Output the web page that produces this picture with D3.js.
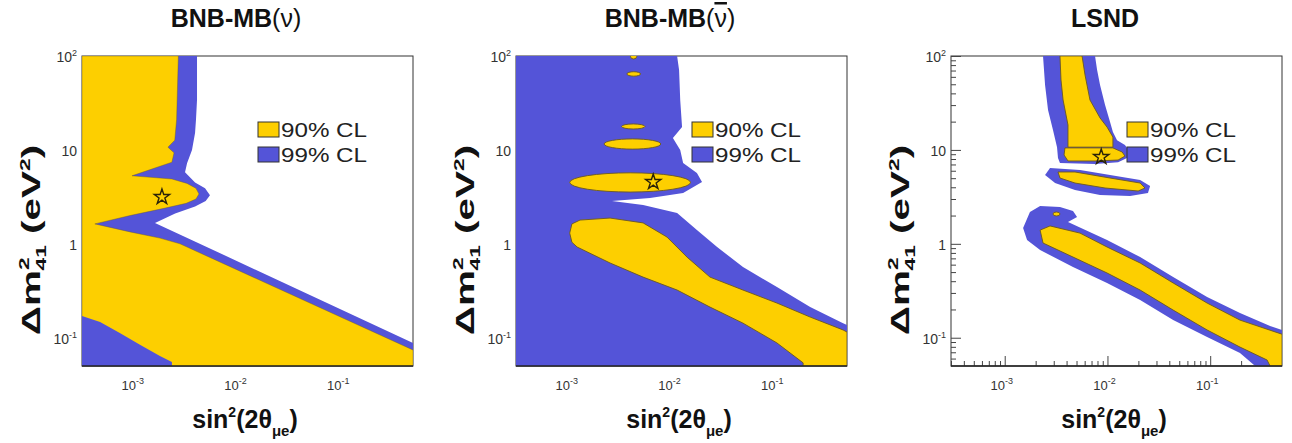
<!DOCTYPE html>
<html>
<head>
<meta charset="utf-8">
<script src="https://cdn.jsdelivr.net/npm/d3@7"></script>
<style>
  body { margin: 0; background: #fff; }
  svg { display: block; font-family: "Liberation Sans", Arial, Helvetica, sans-serif; }
</style>
</head>
<body>
<svg id="chart" width="1292" height="443"></svg>
<script>
// axes: sin^2(2theta_mue) horizontally, dm^2_41 (eV^2) vertically, both log
const xDomain = [3e-4, 0.5];
const yDomain = [0.05, 100];
const xTicks = [1e-3, 1e-2, 1e-1];
const xTickLabels = [["10", "-3"], ["10", "-2"], ["10", "-1"]];
const yTicks = [0.1, 1, 10, 100];
const yTickLabels = [["10", "-1"], ["1", ""], ["10", ""], ["10", "2"]];
const legendLabels = ["90% CL", "99% CL"];

// contours as [sin2, dm2] points
// BNB-MB(nu)
const mbNu99 = [[3e-4,100],[3.95e-3,100],[3.95e-3,34],[3.86e-3,21],[3.78e-3,15.1],[3.53e-3,10],[3.16e-3,7.2],
  [3.02e-3,5.8],[3.78e-3,4.5],[4.73e-3,3.9],[5.28e-3,3.3],[4.8e-3,2.86],[3.78e-3,2.5],[2.42e-3,2.1],[1.54e-3,1.67],
  [0.5,0.088],[0.5,0.05],[3e-4,0.05]];
const mbNu90 = [[3e-4,100],[2.6e-3,100],[2.5e-3,21],[2.4e-3,12.7],[2.06e-3,10.7],[2.36e-3,9.3],[2.25e-3,7.4],
  [9.2e-4,5.3],[2.25e-3,4.9],[3.16e-3,4.4],[3.86e-3,3.9],[4.13e-3,3.4],[3.86e-3,3.0],[3.1e-3,2.7],[1.93e-3,2.4],
  [8.8e-4,2.0],[4.0e-4,1.63],[8.8e-4,1.34],[1.72e-3,1.15],[2.7e-3,1.0],[0.5,0.074],[0.5,0.05],[3e-4,0.05]];
const mbNuCorner = [[3e-4,0.17],[4.5e-4,0.147],[7.0e-4,0.112],[1.1e-3,0.084],[1.72e-3,0.064],[2.25e-3,0.055],
  [2.25e-3,0.05],[3e-4,0.05]];

// BNB-MB(nubar)
const mbNubar99 = [[3e-4,100],[1.11e-2,100],[1.16e-2,71],[1.19e-2,34],[1.24e-2,17.5],[1.01e-2,13.4],[1.19e-2,10],
  [1.27e-2,7.25],[1.73e-2,5.67],[1.94e-2,4.55],[1.27e-2,3.47],[6.05e-3,3.07],[2.58e-3,2.86],[5.18e-3,2.59],
  [1.11e-2,2.13],[1.73e-2,1.40],[2.72e-2,0.925],[4.86e-2,0.566],[0.104,0.347],[0.219,0.212],[0.458,0.143],
  [0.5,0.137],[0.5,0.05],[3e-4,0.05]];
const mbNubar90 = [[1.18e-3,0.925],[1.05e-3,1.04],[1.0e-3,1.30],[1.05e-3,1.63],[1.26e-3,1.79],[2.47e-3,1.88],
  [5.18e-3,1.67],[8.85e-3,1.18],[1.39e-2,0.72],[2.32e-2,0.442],[4.86e-2,0.322],[0.104,0.234],[0.219,0.166],
  [0.458,0.121],[0.5,0.115],[0.5,0.05],[0.187,0.05],[0.187,0.054],[0.104,0.088],[4.86e-2,0.143],[2.32e-2,0.212],
  [1.11e-2,0.322],[5.18e-3,0.442],[2.47e-3,0.625]];
// small closed 90% islands: [sin2 min, sin2 max, dm2 min, dm2 max]
const mbNubarIslands = [[1.0e-3,1.5e-2,3.56,5.7],[2.16e-3,7.7e-3,10.2,13.1],[3.2e-3,5.4e-3,16.7,18.9],
  [3.6e-3,4.9e-3,61,68],[3.9e-3,4.5e-3,93,106]];

// LSND
const lsnd99 = [
  [[2.36e-3,100],[7.57e-3,100],[7.93e-3,71],[8.47e-3,49],[9.48e-3,30],[1.06e-2,19.8],[1.13e-2,15.5],[1.24e-2,12.7],
   [1.48e-2,11.3],[1.66e-2,9.5],[1.55e-2,8.2],[1.27e-2,7.4],[7.57e-3,7.07],[3.45e-3,7.25],[3.3e-3,8.2],
   [3.23e-3,10.7],[2.95e-3,16.3],[2.64e-3,26.6],[2.47e-3,49]],
  [[2.47e-3,5.41],[2.76e-3,6.41],[5.41e-3,6.11],[1.06e-2,5.41],[2.08e-2,4.78],[2.6e-2,4.13],[2.48e-2,3.47],
   [1.66e-2,3.23],[8.47e-3,3.31],[4.83e-3,3.74],[3.09e-3,4.44]],
  [[1.51e-3,1.47],[1.76e-3,2.18],[2.21e-3,2.53],[3.45e-3,2.47],[4.62e-3,2.23],[5.06e-3,1.93],[4.13e-3,1.71],
   [9.91e-3,1.10],[2.08e-2,0.723],[4.36e-2,0.443],[9.33e-2,0.271],[0.195,0.183],[0.383,0.133],[0.5,0.121],
   [0.5,0.05],[0.274,0.05],[0.195,0.0687],[9.33e-2,0.102],[4.36e-2,0.154],[2.08e-2,0.252],[9.91e-3,0.383],
   [4.62e-3,0.566],[2.21e-3,0.859],[1.65e-3,1.10]]
];
const lsnd90 = [
  [[3.45e-3,100],[5.66e-3,100],[6.05e-3,62.8],[6.76e-3,34],[8.47e-3,21.9],[9.91e-3,17.5],[1.13e-2,13.7],
   [1.13e-2,10.7],[4.13e-3,10.7],[4.13e-3,18.4],[3.7e-3,34],[3.53e-3,55.5]],
  [[3.86e-3,10.5],[1.13e-2,10.5],[1.39e-2,9.5],[1.48e-2,8.6],[1.27e-2,7.8],[7.57e-3,7.62],[4.13e-3,7.62],[3.78e-3,8.83]],
  [[3.3e-3,5.82],[4.83e-3,5.82],[1.06e-2,5.02],[2.08e-2,4.44],[2.32e-2,3.93],[1.99e-2,3.65],[9.48e-3,3.93],
   [4.83e-3,4.44],[3.45e-3,5.02]],
  [[2.21e-3,1.40],[2.76e-3,1.55],[5.41e-3,1.30],[9.91e-3,0.925],[2.08e-2,0.625],[4.36e-2,0.383],[9.33e-2,0.234],
   [0.195,0.154],[0.5,0.109],[0.5,0.05],[0.383,0.05],[0.358,0.0579],[0.195,0.0795],[9.33e-2,0.121],[4.36e-2,0.197],
   [2.08e-2,0.322],[9.91e-3,0.489],[4.62e-3,0.723],[2.36e-3,1.02]]
];
const lsndIslands = [[2.95e-3,3.45e-3,1.98,2.18]];

// best fit points
const bestFit = [[1.8e-3,3.15],[6.5e-3,4.55],[8.7e-3,8.4]];

const YELLOW = "#fdcf00", BLUE = "#5454d8", EDGE = "#6b5820";

const panels = [
  { left: 82, title: "BNB-MB", nu: "ν", bar: false, c99: [mbNu99], c90: [mbNu90], over: [mbNuCorner], islands: [], edge: 0.4 },
  { left: 516, title: "BNB-MB", nu: "ν", bar: true, c99: [mbNubar99], c90: [mbNubar90], over: [], islands: mbNubarIslands, edge: 0.9 },
  { left: 951, title: "LSND", nu: null, bar: false, c99: lsnd99, c90: lsnd90, over: [], islands: lsndIslands, edge: 0.9 }
];

const svg = d3.select("#chart");
const plotW = 331, plotH = 310, plotTop = 56;

const x = d3.scaleLog().domain(xDomain).range([0, plotW]);
const y = d3.scaleLog().domain(yDomain).range([plotH, 0]);
const line = d3.line().x(d => x(d[0])).y(d => y(d[1])).curve(d3.curveLinearClosed);

const minorX = [], minorY = [];
for (let e = -4; e <= 0; e++) {
    for (let k = 2; k <= 9; k++) {
        const v = k * Math.pow(10, e);
        if (v > xDomain[0] && v < xDomain[1]) minorX.push(v);
    }
}
for (let e = -2; e <= 1; e++) {
    for (let k = 2; k <= 9; k++) {
        const v = k * Math.pow(10, e);
        if (v > yDomain[0] && v < yDomain[1]) minorY.push(v);
    }
}

function tickGroup(g, axis) {
    g.call(axis);
    g.select(".domain").remove();
    g.selectAll("text").remove();
    g.selectAll("line").attr("stroke", "#444").attr("stroke-width", 1);
}

panels.forEach((p, i) => {
    const g = svg.append("g").attr("transform", `translate(${p.left},${plotTop})`);

    g.append("clipPath").attr("id", "clip" + i)
        .append("rect").attr("width", plotW).attr("height", plotH);

    // frame and ticks go under the regions
    g.append("rect")
        .attr("width", plotW).attr("height", plotH)
        .attr("fill", "none").attr("stroke", "#333").attr("stroke-width", 1);

    tickGroup(g.append("g").attr("transform", `translate(0,${plotH})`),
        d3.axisBottom(x).tickValues(xTicks).tickSize(-10).tickFormat(""));
    tickGroup(g.append("g").attr("transform", `translate(0,${plotH})`),
        d3.axisBottom(x).tickValues(minorX).tickSize(-5).tickFormat(""));
    tickGroup(g.append("g"), d3.axisLeft(y).tickValues(yTicks).tickSize(-10).tickFormat(""));
    tickGroup(g.append("g"), d3.axisLeft(y).tickValues(minorY).tickSize(-5).tickFormat(""));

    const regions = g.append("g").attr("clip-path", `url(#clip${i})`);

    regions.selectAll("path.c99").data(p.c99).enter().append("path")
        .attr("class", "c99")
        .attr("d", line)
        .attr("fill", BLUE);

    regions.selectAll("path.c90").data(p.c90).enter().append("path")
        .attr("class", "c90")
        .attr("d", line)
        .attr("fill", YELLOW)
        .attr("stroke", EDGE)
        .attr("stroke-width", p.edge);

    regions.selectAll("ellipse.island").data(p.islands).enter().append("ellipse")
        .attr("class", "island")
        .attr("cx", d => (x(d[0]) + x(d[1])) / 2)
        .attr("cy", d => (y(d[2]) + y(d[3])) / 2)
        .attr("rx", d => (x(d[1]) - x(d[0])) / 2)
        .attr("ry", d => (y(d[2]) - y(d[3])) / 2)
        .attr("fill", YELLOW)
        .attr("stroke", EDGE)
        .attr("stroke-width", 0.9);

    regions.selectAll("path.over").data(p.over).enter().append("path")
        .attr("class", "over")
        .attr("d", line)
        .attr("fill", BLUE);

    // best fit star
    g.append("path")
        .attr("d", d3.symbol().type(d3.symbolStar).size(72))
        .attr("transform", `translate(${x(bestFit[i][0])},${y(bestFit[i][1])})`)
        .attr("fill", "none")
        .attr("stroke", "#2a2208")
        .attr("stroke-width", 1.4);

    // bottom axis line on top
    g.append("line")
        .attr("x1", 0).attr("x2", plotW).attr("y1", plotH).attr("y2", plotH)
        .attr("stroke", "#222").attr("stroke-width", 1.6);

    // tick labels
    const xl = g.append("g").selectAll("text").data(xTicks).enter().append("text")
        .attr("x", d => x(d) - 3)
        .attr("y", plotH + 24)
        .attr("text-anchor", "middle")
        .attr("fill", "#333")
        .style("font-size", "13px");
    xl.append("tspan").text((d, j) => xTickLabels[j][0]);
    xl.append("tspan").attr("dy", -6).style("font-size", "9px").text((d, j) => xTickLabels[j][1]);

    const yl = g.append("g").selectAll("text").data(yTicks).enter().append("text")
        .attr("x", -5)
        .attr("y", d => y(d) + 6)
        .attr("text-anchor", "end")
        .attr("fill", "#333")
        .style("font-size", "14px");
    yl.append("tspan").text((d, j) => yTickLabels[j][0]);
    yl.append("tspan").attr("dy", -6).style("font-size", "9px").text((d, j) => yTickLabels[j][1]);

    // legend
    const leg = g.append("g").attr("transform", "translate(176,66)");
    [YELLOW, BLUE].forEach((c, j) => {
        leg.append("rect")
            .attr("x", 0).attr("y", j * 25)
            .attr("width", 21).attr("height", 15)
            .attr("fill", c).attr("stroke", "#333").attr("stroke-width", 1);
        leg.append("text")
            .attr("x", 23).attr("y", j * 25 + 15)
            .attr("fill", "#222")
            .attr("textLength", 86)
            .attr("lengthAdjust", "spacingAndGlyphs")
            .style("font-size", "20px")
            .text(legendLabels[j]);
    });

    // title
    const t = g.append("text")
        .attr("x", 154).attr("y", 27 - plotTop)
        .attr("text-anchor", "middle")
        .attr("fill", "#111")
        .style("font-size", "25px")
        .style("font-weight", "bold");
    t.append("tspan").text(p.title);
    if (p.nu) {
        t.append("tspan").style("font-weight", "normal").text("(");
        t.append("tspan").style("font-weight", "normal")
            .style("text-decoration", p.bar ? "overline" : "none").text(p.nu);
        t.append("tspan").style("font-weight", "normal").text(")");
    }

    // x label
    const xt = g.append("text")
        .attr("x", 163).attr("y", 428 - plotTop)
        .attr("text-anchor", "middle")
        .attr("fill", "#111")
        .style("font-size", "25px")
        .style("font-weight", "bold");
    xt.append("tspan").text("sin");
    xt.append("tspan").attr("dy", -11).style("font-size", "14px").text("2");
    xt.append("tspan").attr("dy", 11).text("(2θ");
    xt.append("tspan").attr("dy", 8).style("font-size", "15px").text("μe");
    xt.append("tspan").attr("dy", -8).text(")");

    // y label
    const yt = g.append("text")
        .attr("transform", `translate(-42,${240 - plotTop}) rotate(-90) scale(1.62,1)`)
        .attr("text-anchor", "middle")
        .attr("fill", "#111")
        .style("font-size", "25px")
        .style("font-weight", "bold");
    yt.append("tspan").text("Δm");
    yt.append("tspan").attr("dy", -11).style("font-size", "14px").text("2");
    yt.append("tspan").attr("dx", -8).attr("dy", 17).style("font-size", "14px").text("41");
    yt.append("tspan").attr("dy", -6).text(" (eV");
    yt.append("tspan").attr("dy", -10).style("font-size", "14px").text("2");
    yt.append("tspan").attr("dy", 10).text(")");
});
</script>
</body>
</html>
